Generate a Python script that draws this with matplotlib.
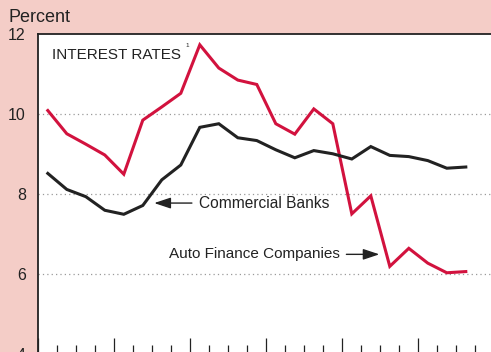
import numpy as np
import matplotlib.pyplot as plt
from matplotlib.ticker import MultipleLocator

# quarterly rates, percent
auto_finance = [10.09, 9.51, 9.25, 8.98, 8.50, 9.85, 10.18, 10.52, 11.73, 11.15,
                10.85, 10.74, 9.76, 9.50, 10.13, 9.76, 7.51, 7.96, 6.20, 6.65,
                6.28, 6.04, 6.07]
banks = [8.52, 8.12, 7.94, 7.60, 7.50, 7.72, 8.36, 8.73, 9.67, 9.76,
         9.41, 9.34, 9.11, 8.91, 9.09, 9.01, 8.88, 9.19, 8.97, 8.94,
         8.84, 8.65, 8.68]
y_ticks = [4, 6, 8, 10, 12]

quarter = np.arange(len(banks)) + 0.5

pink = '#F4CDC7'
red = '#D2123E'
dark = '#222222'
narrow = ['Liberation Sans Narrow', 'Liberation Sans', 'DejaVu Sans']
plain = ['Liberation Sans', 'DejaVu Sans']

fig = plt.figure(figsize=(4.91, 3.52), dpi=100, facecolor=pink)
ax = fig.add_axes([38.3 / 491, -2.5 / 352, 456 / 491, 320.5 / 352])
ax.set_facecolor('white')

ax.plot(quarter, auto_finance, color=red, lw=2.2, solid_joinstyle='miter')
ax.plot(quarter, banks, color=dark, lw=2.2, solid_joinstyle='miter')

ax.set_xlim(0, 24)
ax.set_ylim(4, 12)
ax.set_yticks(y_ticks)
ax.set_yticklabels([str(v) for v in y_ticks], family=plain, fontsize=11.5)
ax.tick_params(axis='y', length=0, pad=9, colors='#222222')
ax.get_yticklabels()[-1].set_y(12.08)
for v in [6, 8, 10]:
    ax.axhline(v, color='#9a9a9a', lw=0.9, ls=(0, (1, 2.5)), zorder=0)

ax.xaxis.set_major_locator(MultipleLocator(4))
ax.xaxis.set_minor_locator(MultipleLocator(1))
ax.tick_params(axis='x', which='major', direction='in', length=12, width=0.9,
               labelbottom=False, colors=dark)
ax.tick_params(axis='x', which='minor', direction='in', length=7, width=0.9,
               colors=dark)

for s in ['left', 'top']:
    ax.spines[s].set_color(dark)
    ax.spines[s].set_linewidth(1.3)
ax.spines['right'].set_visible(False)

fig.text(8 / 491, 1 - 17 / 352, 'Percent', family=plain, fontsize=13,
         va='center', ha='left', color=dark)

ax.text(0.7, 11.48, 'INTEREST RATES', family=narrow, fontsize=11, color=dark,
        va='center', ha='left')
ax.text(7.72, 11.72, '1', family=plain, fontsize=4.5, color=dark,
        va='center', ha='left')

ax.annotate('Commercial Banks', xy=(6.1, 7.78), xytext=(8.45, 7.78),
            family=narrow, fontsize=11.2, color=dark, va='center', ha='left',
            arrowprops=dict(arrowstyle='-|>,head_length=0.9,head_width=0.3',
                        color=dark, lw=1, shrinkA=3, shrinkB=0))
ax.annotate('Auto Finance Companies', xy=(17.95, 6.5), xytext=(15.85, 6.5),
            family=narrow, fontsize=11, color=dark, va='center', ha='right',
            arrowprops=dict(arrowstyle='-|>,head_length=0.9,head_width=0.3',
                        color=dark, lw=1, shrinkA=3, shrinkB=0))

plt.savefig('out.png', dpi=100, facecolor=pink)
